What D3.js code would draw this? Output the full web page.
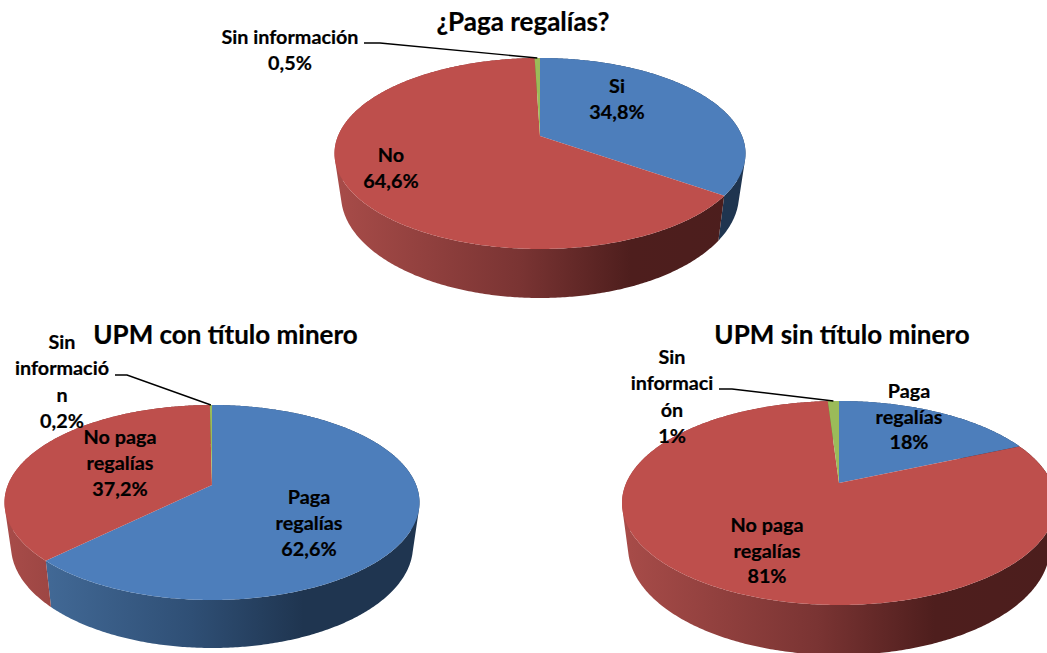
<!DOCTYPE html>
<html><head><meta charset="utf-8">
<script src="https://cdnjs.cloudflare.com/ajax/libs/d3/7.8.5/d3.min.js"></script>
<style>html,body{margin:0;padding:0;background:#fff;overflow:hidden}svg{display:block}
text{font-family:Lato,"Open Sans",sans-serif;font-weight:700;fill:#000;text-anchor:middle;stroke:#000;stroke-width:.2}</style>
</head><body><svg id="c" width="1047" height="653"></svg>
<script>
const sliceColors = ["#4d7ebb", "#be4f4c", "#9bbb59"];

const pie1Title = "¿Paga regalías?";
const pie1Values = [34.8, 64.6, 0.5];
const pie1Labels = [["Si", "34,8%"], ["No", "64,6%"], ["Sin información", "0,5%"]];

const pie2Title = "UPM con título minero";
const pie2Values = [62.6, 37.2, 0.2];
const pie2Labels = [["Paga", "regalías", "62,6%"], ["No paga", "regalías", "37,2%"], ["Sin", "informació", "n", "0,2%"]];

const pie3Title = "UPM sin título minero";
const pie3Values = [18.4, 80.6, 1];
const pie3Labels = [["Paga", "regalías", "18%"], ["No paga", "regalías", "81%"], ["Sin", "informaci", "ón", "1%"]];

const layouts = [
  {title: pie1Title, values: pie1Values, labels: pie1Labels,
   titlePos: [523, 31],
   top: {cx: 540, cy: 153.5, rx: 205.5, ry: 95.5}, low: {cx: 540, cy: 195, rx: 199, ry: 103}, apexY: 136,
   labelPos: [[617, 93, 25.5], [391, 161.5, 26], [290, 43.5, 26]], leader: [[364, 43], [380, 43]]},
  {title: pie2Title, values: pie2Values, labels: pie2Labels,
   titlePos: [225.5, 343.5],
   top: {cx: 212, cy: 502.5, rx: 207.5, ry: 97.5}, low: {cx: 212, cy: 546, rx: 201, ry: 102}, apexY: 485,
   labelPos: [[309, 504, 26], [120, 444, 26], [62, 349, 26.3]], leader: [[115, 375], [127, 375]]},
  {title: pie3Title, values: pie3Values, labels: pie3Labels,
   titlePos: [842, 343.5],
   top: {cx: 839, cy: 503, rx: 217, ry: 102}, low: {cx: 839, cy: 547, rx: 211, ry: 108}, apexY: 483,
   labelPos: [[909, 398, 25.7], [767, 532, 25.7], [672, 364, 26.3]], leader: [[719, 389], [732, 389]]}
];

const svg = d3.select("#c");
const defs = svg.append("defs");
const pieGen = d3.pie().sort(null).value(d => d);

// Projects a rim angle onto a perspective ellipse
function projector(e, k) {
  const B = e.ry * (1 - k * k), A = e.rx * Math.sqrt(1 - k * k), y0 = e.cy - e.ry * k;
  return a => {
    const s = Math.sin(a), c = Math.cos(a), w = 1 + k * c;
    return [e.cx + A * s / w, y0 - B * c / w];
  };
}
const lineGen = d3.line();
function sampleAngles(a0, a1) {
  const n = Math.max(2, Math.ceil((a1 - a0) / 0.01));
  return d3.range(n + 1).map(i => a0 + (a1 - a0) * i / n);
}
function wallPath(as, topP, lowP) {
  // one positively wound quad per step, so folds at the silhouette do not cancel out
  return d3.pairs(as).map(([a, b]) => {
    const quad = [topP(a), topP(b), lowP(b), lowP(a)];
    if (d3.polygonArea(quad) < 0) quad.reverse();
    return lineGen(quad) + "Z";
  }).join("");
}
function gradient(id, x0, x1, stops) {
  const g = defs.append("linearGradient").attr("id", id).attr("gradientUnits", "userSpaceOnUse")
    .attr("x1", x0).attr("x2", x1).attr("y1", 0).attr("y2", 0);
  stops.forEach(s => g.append("stop").attr("offset", s[0]).attr("stop-color", s[1]));
}
const wallStops = [
  [[0, "#47709f"], [0.45, "#2f4f75"], [0.72, "#1f3550"], [1, "#1f3550"]],
  [[0, "#a84c49"], [0.45, "#7a3433"], [0.72, "#4e1e1d"], [1, "#4c1e1d"]],
  [[0, "#7a8f44"], [0.5, "#5d6d33"], [1, "#3f4a22"]]
];

layouts.forEach((p, pi) => {
  const k = (p.top.cy - p.apexY) / p.top.ry;
  const topP = projector(p.top, k), lowP = projector(p.low, k);
  const arcs = pieGen(p.values);
  const g = svg.append("g");
  wallStops.forEach((st, si) => gradient(`w${pi}-${si}`, p.top.cx - p.top.rx, p.top.cx + p.top.rx, st));

  // side walls
  g.selectAll("path.wall").data(arcs).join("path").attr("class", "wall")
    .attr("fill", (d, i) => `url(#w${pi}-${i})`)
    .attr("d", d => wallPath(sampleAngles(d.startAngle, d.endAngle), topP, lowP));
  // top faces
  g.selectAll("path.face").data(arcs).join("path").attr("class", "face")
    .attr("fill", (d, i) => sliceColors[i])
    .attr("d", d => {
      const as = sampleAngles(d.startAngle, d.endAngle);
      return lineGen([[p.top.cx, p.apexY]].concat(as.map(topP))) + "Z";
    });
  // leader to the small slice
  const last = arcs[2];
  const tip = topP((last.startAngle + last.endAngle) / 2);
  g.append("path").attr("fill", "none").attr("stroke", "#000").attr("stroke-width", 1.4)
    .attr("d", lineGen(p.leader.concat([tip])));
  // title
  g.append("text").attr("x", p.titlePos[0]).attr("y", p.titlePos[1]).attr("font-size", 26).text(p.title);
  // labels
  p.labels.forEach((lines, i) => {
    const [x, y, dy] = p.labelPos[i];
    lines.forEach((t, j) => {
      g.append("text").attr("x", x).attr("y", y + j * dy).attr("font-size", 19.8).text(t);
    });
  });
});
</script></body></html>
